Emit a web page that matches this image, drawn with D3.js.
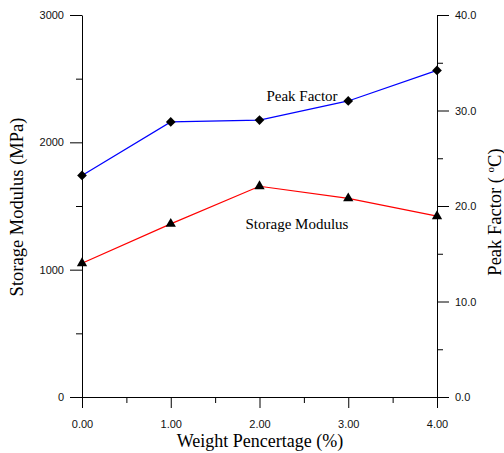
<!DOCTYPE html>
<html>
<head>
<meta charset="utf-8">
<script src="https://cdn.jsdelivr.net/npm/d3@7"></script>
<style>
  html, body { margin: 0; padding: 0; background: #fff; }
  svg { display: block; }
  .tick text { font-family: "Liberation Sans", Arial, sans-serif; font-size: 11px; fill: #111; }
  .serif { font-family: "Liberation Serif", "Times New Roman", serif; fill: #000; }
</style>
</head>
<body>
<svg id="chart" width="504" height="453"></svg>
<script>
// Filler content (wt%) on the x axis
const weightPct = [0, 1, 2, 3, 4];
// Storage modulus, MPa (left axis)
const storageModulus = [1050, 1360, 1655, 1560, 1420];
// Peak factor, °C (right axis)
const peakFactor = [23.2, 28.8, 29.0, 31.0, 34.2];

// Tick values
const xMajorTicks = [0, 1, 2, 3, 4];
const xMinorTicks = [0.5, 1.5, 2.5, 3.5];
const leftMajorTicks = [0, 1000, 2000, 3000];
const leftMinorTicks = [500, 1500, 2500];
const rightMajorTicks = [0, 10, 20, 30, 40];
const rightMinorTicks = [5, 15, 25, 35];

const svg = d3.select("#chart");
const plot = { left: 82, right: 437, top: 15, bottom: 397 };

const x = d3.scaleLinear().domain([0, 4]).range([plot.left, plot.right]);
const yLeft = d3.scaleLinear().domain([0, 3000]).range([plot.bottom, plot.top]);
const yRight = d3.scaleLinear().domain([0, 40]).range([plot.bottom, plot.top]);

function styleAxis(g) {
  g.selectAll("path.domain").attr("stroke", "#000").attr("stroke-width", 1);
  g.selectAll(".tick line").attr("stroke", "#000").attr("stroke-width", 1);
}

// Bottom axis
svg.append("g")
  .attr("transform", `translate(0,${plot.bottom})`)
  .call(d3.axisBottom(x).tickValues(xMajorTicks).tickSize(11).tickSizeOuter(0)
    .tickPadding(12).tickFormat(d3.format(".2f")))
  .call(styleAxis);
svg.append("g")
  .attr("transform", `translate(0,${plot.bottom})`)
  .call(d3.axisBottom(x).tickValues(xMinorTicks).tickSize(6).tickSizeOuter(0).tickFormat(""))
  .call(styleAxis)
  .call(g => g.select("path.domain").remove());

// Left axis
svg.append("g")
  .attr("transform", `translate(${plot.left},0)`)
  .call(d3.axisLeft(yLeft).tickValues(leftMajorTicks).tickSize(12).tickSizeOuter(0)
    .tickPadding(6).tickFormat(d3.format("d")))
  .call(styleAxis);
svg.append("g")
  .attr("transform", `translate(${plot.left},0)`)
  .call(d3.axisLeft(yLeft).tickValues(leftMinorTicks).tickSize(6).tickSizeOuter(0).tickFormat(""))
  .call(styleAxis)
  .call(g => g.select("path.domain").remove());

// Right axis
svg.append("g")
  .attr("transform", `translate(${plot.right},0)`)
  .call(d3.axisRight(yRight).tickValues(rightMajorTicks).tickSize(12).tickSizeOuter(0)
    .tickPadding(6).tickFormat(d3.format(".1f")))
  .call(styleAxis);
svg.append("g")
  .attr("transform", `translate(${plot.right},0)`)
  .call(d3.axisRight(yRight).tickValues(rightMinorTicks).tickSize(6).tickSizeOuter(0).tickFormat(""))
  .call(styleAxis)
  .call(g => g.select("path.domain").remove());

// Lines
const smLine = d3.line().x((d, i) => x(weightPct[i])).y(d => yLeft(d));
const pfLine = d3.line().x((d, i) => x(weightPct[i])).y(d => yRight(d));

svg.append("path").datum(peakFactor)
  .attr("d", pfLine).attr("fill", "none").attr("stroke", "#0000ff").attr("stroke-width", 1.2);
svg.append("path").datum(storageModulus)
  .attr("d", smLine).attr("fill", "none").attr("stroke", "#ff0000").attr("stroke-width", 1.2);

// Markers
svg.append("g").selectAll("path").data(peakFactor).join("path")
  .attr("transform", (d, i) => `translate(${x(weightPct[i])},${yRight(d)})`)
  .attr("d", d3.symbol(d3.symbolDiamond2, 60))
  .attr("fill", "#000");
svg.append("g").selectAll("path").data(storageModulus).join("path")
  .attr("transform", (d, i) => `translate(${x(weightPct[i])},${yLeft(d)})`)
  .attr("d", d3.symbol(d3.symbolTriangle, 46))
  .attr("fill", "#000");

// Series labels
svg.append("text").attr("class", "serif")
  .attr("x", 302).attr("y", 101).attr("text-anchor", "middle")
  .style("font-size", "15px").text("Peak Factor");
svg.append("text").attr("class", "serif")
  .attr("x", 297).attr("y", 229).attr("text-anchor", "middle")
  .style("font-size", "15px").text("Storage Modulus");

// Axis titles
svg.append("text").attr("class", "serif")
  .attr("x", 260).attr("y", 447).attr("text-anchor", "middle")
  .style("font-size", "18px").text("Weight Pencertage (%)");
svg.append("text").attr("class", "serif")
  .attr("transform", "translate(23,207) rotate(-90)").attr("text-anchor", "middle")
  .style("font-size", "18.5px").text("Storage Modulus (MPa)");

// Right title with a raised degree mark
const rt = svg.append("text").attr("class", "serif")
  .attr("transform", "translate(501,212) rotate(-90)").attr("text-anchor", "middle")
  .style("font-size", "18.5px");
rt.append("tspan").text("Peak Factor ( ");
rt.append("tspan").attr("dy", -7).style("font-size", "11px").text("o");
rt.append("tspan").attr("dy", 7).text("C)");
</script>
</body>
</html>
